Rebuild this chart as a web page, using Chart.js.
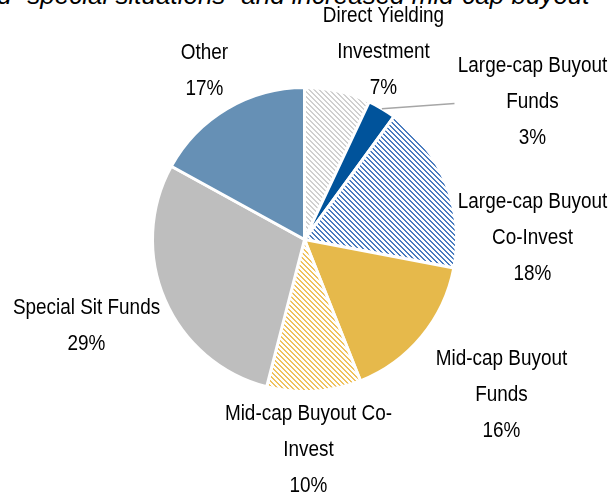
<!DOCTYPE html>
<html>
<head>
<meta charset="utf-8">
<script src="https://cdn.jsdelivr.net/npm/chart.js@4.4.1/dist/chart.umd.min.js"></script>
<style>
  html, body { margin: 0; padding: 0; background: #fff; }
  #wrap { position: relative; width: 614px; height: 493px; overflow: hidden; }
  #title {
    position: absolute; left: -3px; top: -20px; white-space: nowrap;
    font: italic 26px "Liberation Sans", Arial, sans-serif; color: #000;
  }
  canvas { position: absolute; left: 0; top: 0; }
</style>
</head>
<body>
<div id="wrap">
  <div id="title">d “special situations” and increased mid-cap buyout</div>
  <canvas id="pie" width="614" height="493"></canvas>
</div>
<script>
// allocation by strategy, clockwise from 12 o'clock
const categories = [
  'Direct Yielding Investment',
  'Large-cap Buyout Funds',
  'Large-cap Buyout Co-Invest',
  'Mid-cap Buyout Funds',
  'Mid-cap Buyout Co-Invest',
  'Special Sit Funds',
  'Other'
];
const shares = [7, 3, 18, 16, 10, 29, 17];

// how each category label wraps in the picture
const labelLines = [
  ['Direct Yielding', 'Investment'],
  ['Large-cap Buyout', 'Funds'],
  ['Large-cap Buyout', 'Co-Invest'],
  ['Mid-cap Buyout', 'Funds'],
  ['Mid-cap Buyout Co-', 'Invest'],
  ['Special Sit Funds'],
  ['Other']
];

// label block centre, relative to the pie centre
const labelOffsets = [
  [79, -188], [228, -138], [228, -2], [197, 155], [4, 210], [-218, 86], [-100, -169]
];
const LINE_H = 36;
const NARROW = 0.86; // the labels are set in a condensed face

function stripes(color) {
  const size = 5;
  const c = document.createElement('canvas');
  c.width = size; c.height = size;
  const g = c.getContext('2d');
  g.fillStyle = '#fff';
  g.fillRect(0, 0, size, size);
  g.fillStyle = color;
  for (let i = 0; i < size; i++) {
    g.fillRect(i, i, 1, 1);
    g.fillRect(i, (i + 1) % size, 1, 1);
  }
  return g.createPattern(c, 'repeat');
}

const ctx = document.getElementById('pie').getContext('2d');
const fills = [
  stripes('#d0d0d0'),
  '#00539b',
  stripes('#4b7dc0'),
  '#e6b94b',
  stripes('#efc25e'),
  '#bebebe',
  '#6690b5'
];

const labelPlugin = {
  id: 'outsideLabels',
  afterDatasetsDraw(chart) {
    const g = chart.ctx;
    const arcs = chart.getDatasetMeta(0).data;
    g.save();
    g.font = '22px "Liberation Sans", Arial, sans-serif';
    g.fillStyle = '#000';
    g.textAlign = 'center';
    g.textBaseline = 'middle';
    arcs.forEach((arc, i) => {
      const lines = labelLines[i].concat([shares[i] + '%']);
      const cx = arc.x + labelOffsets[i][0];
      const cy = arc.y + labelOffsets[i][1];
      const top = cy - (lines.length - 1) * LINE_H / 2;
      lines.forEach((t, j) => {
        g.save();
        g.translate(cx, top + j * LINE_H);
        g.scale(NARROW, 1);
        g.fillText(t, 0, 0);
        g.restore();
      });
    });
    // leader line for the thin large-cap funds slice
    const a = arcs[1];
    const mid = (a.startAngle + a.endAngle) / 2;
    g.strokeStyle = '#a6a6a6';
    g.lineWidth = 1.5;
    g.beginPath();
    g.moveTo(a.x + a.outerRadius * Math.cos(mid), a.y + a.outerRadius * Math.sin(mid));
    g.lineTo(a.x + 150, a.y - 136);
    g.stroke();
    g.restore();
  }
};

new Chart(ctx, {
  type: 'pie',
  data: {
    labels: categories,
    datasets: [
      {
        data: shares,
        backgroundColor: fills,
        borderColor: '#ffffff',
        borderWidth: 3
      }
    ]
  },
  options: {
    responsive: false,
    animation: false,
    layout: { padding: { top: 86, bottom: 100, left: 151, right: 156 } },
    plugins: {
      legend: { display: false },
      tooltip: { enabled: false }
    }
  },
  plugins: [labelPlugin]
});
</script>
</body>
</html>
